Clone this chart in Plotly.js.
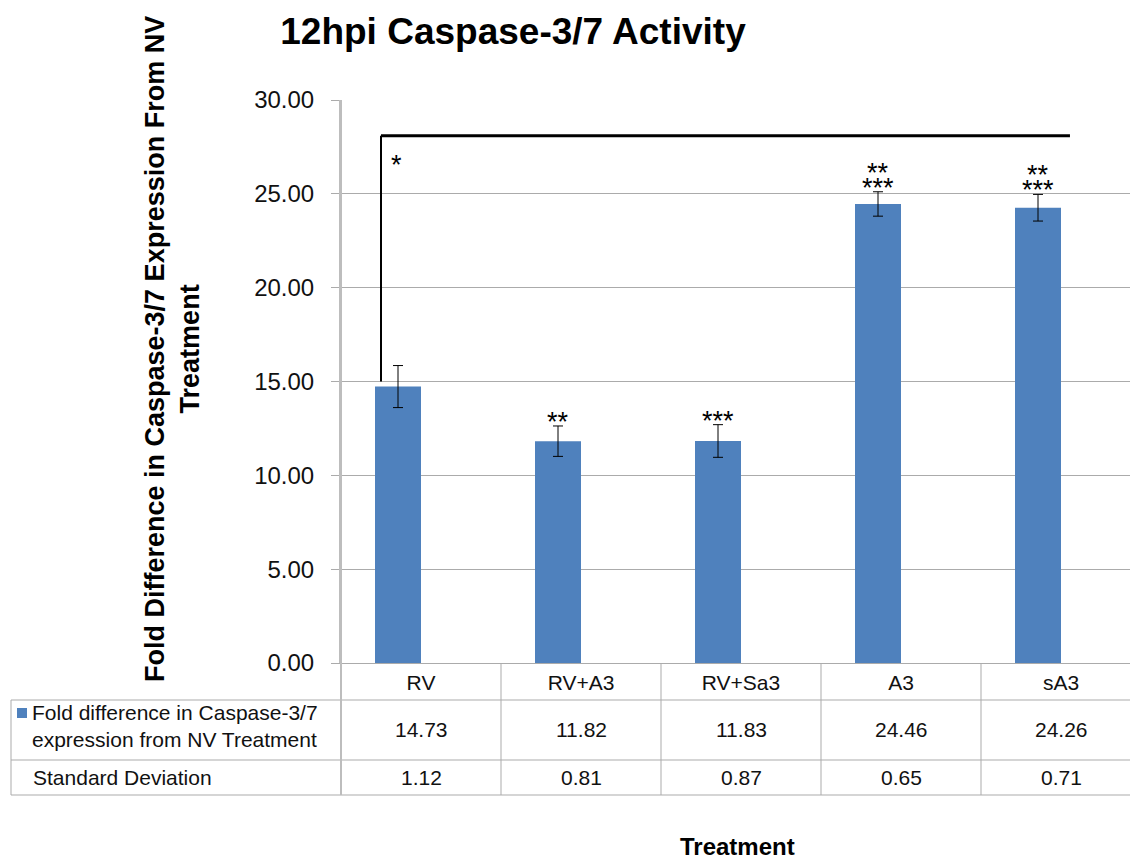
<!DOCTYPE html>
<html>
<head>
<meta charset="utf-8">
<script src="https://cdn.plot.ly/plotly-3.0.1.min.js"></script>
<style>html,body{margin:0;padding:0;background:#fff;}#chart{width:1130px;height:859px;}</style>
</head>
<body>
<div id="chart"></div>
<script>
// ---- data ----
var categories = ["RV", "RV+A3", "RV+Sa3", "A3", "sA3"];
var foldValues = [14.73, 11.82, 11.83, 24.46, 24.26];
var stdDev = [1.12, 0.81, 0.87, 0.65, 0.71];
var sigTop = ["", "", "", "**", "**"];
var sigBottom = ["", "**", "***", "***", "***"];
var seriesName = "Fold difference in Caspase-3/7<br>expression from NV Treatment";
var sdRowName = "Standard Deviation";
var yTicks = [0, 5, 10, 15, 20, 25, 30];
var bracketStartY = 15;
var bracketTopY = 28.1;
var bracketStar = "*";

var FONT = "Liberation Sans, Arial, sans-serif";
var BLUE = "#4F81BD";
var GRID = "#ababab";

var W = 1130, H = 859;
var L = 341, T = 100, B = H - 663;
var plotH = 663 - T;
var plotW = W - L;
var catPx = 160;
function py(p) { return (663 - p) / plotH; }       // pixel y -> paper y
function px(p) { return (p - L) / plotW; }         // pixel x -> paper x

var barW = 46 / catPx;
var xs = categories.map(function (c, i) { return i; });

var trace = {
  type: "bar",
  x: xs,
  y: foldValues,
  width: barW,
  offset: -barW,
  marker: { color: BLUE, line: { width: 0 } },
  error_y: { type: "data", array: stdDev, visible: true, color: "#000", thickness: 1, width: 5 },
  hoverinfo: "none"
};

var shapes = [];
var annotations = [];
var tableRows = [py(700), py(760), py(795)];
tableRows.forEach(function (yy) {
  shapes.push({ type: "line", xref: "paper", yref: "paper", x0: px(11), x1: 1, y0: yy, y1: yy, line: { color: GRID, width: 1 } });
});
shapes.push({ type: "line", xref: "paper", yref: "paper", x0: px(11), x1: px(11), y0: tableRows[0], y1: tableRows[2], line: { color: GRID, width: 1 } });
shapes.push({ type: "line", xref: "paper", yref: "paper", x0: 0, x1: 0, y0: 1, y1: tableRows[2], line: { color: "#bdbdbd", width: 2 } });
for (var i = 0; i < categories.length - 1; i++) {
  shapes.push({ type: "line", xref: "x", yref: "paper", x0: i + 0.5, x1: i + 0.5, y0: 0, y1: tableRows[2], line: { color: GRID, width: 1 } });
}
shapes.push({ type: "rect", xref: "paper", yref: "paper", x0: px(17), x1: px(27), y0: py(708), y1: py(718), fillcolor: BLUE, line: { width: 0 } });

// significance bracket
var brX0 = -0.25, brX1 = 4.056;
shapes.push({ type: "line", xref: "x", yref: "y", x0: brX0, x1: brX0, y0: bracketStartY, y1: bracketTopY, line: { color: "#000", width: 2 } });
shapes.push({ type: "line", xref: "x", yref: "y", x0: brX0, x1: brX1, y0: bracketTopY, y1: bracketTopY, line: { color: "#000", width: 3 } });

var STAR = 27;
var starFont = { family: FONT, size: STAR, color: "#000" };
annotations.push({ xref: "x", yref: "paper", x: -0.155, y: py(157 + 0.29 * STAR), xanchor: "center", yanchor: "middle", text: bracketStar, showarrow: false, font: starFont });

categories.forEach(function (c, i) {
  var top = foldValues[i] + stdDev[i];
  if (sigBottom[i]) {
    annotations.push({ xref: "x", yref: "y", x: i - barW / 2, y: top, xanchor: "center", yanchor: "bottom", yshift: 2, height: 15, valign: "top", text: sigBottom[i], showarrow: false, font: starFont });
  }
  if (sigTop[i]) {
    annotations.push({ xref: "x", yref: "y", x: i - barW / 2, y: top, xanchor: "center", yanchor: "bottom", yshift: 17, height: 15, valign: "top", text: sigTop[i], showarrow: false, font: starFont });
  }
  annotations.push({ xref: "x", yref: "paper", x: i, y: py(729), xanchor: "center", yanchor: "middle", text: foldValues[i].toFixed(2), showarrow: false, font: { family: FONT, size: 21, color: "#111" } });
  annotations.push({ xref: "x", yref: "paper", x: i, y: py(777), xanchor: "center", yanchor: "middle", text: stdDev[i].toFixed(2), showarrow: false, font: { family: FONT, size: 21, color: "#111" } });
});

annotations.push({ xref: "paper", yref: "paper", x: px(30), y: py(726), xanchor: "left", yanchor: "middle", align: "left", text: seriesName, showarrow: false, font: { family: FONT, size: 21, color: "#111" } });
annotations.push({ xref: "paper", yref: "paper", x: px(31), y: py(777), xanchor: "left", yanchor: "middle", text: sdRowName, showarrow: false, font: { family: FONT, size: 21, color: "#111" } });

annotations.push({ xref: "paper", yref: "paper", x: px(172), y: py(349), xanchor: "center", yanchor: "middle", textangle: -90, text: "<b>Fold Difference in Caspase-3/7 Expression From NV<br>Treatment</b>", showarrow: false, font: { family: FONT, size: 27, color: "#000" } });
annotations.push({ xref: "paper", yref: "paper", x: px(737), y: py(846), xanchor: "center", yanchor: "middle", text: "<b>Treatment</b>", showarrow: false, font: { family: FONT, size: 24, color: "#000" } });

var layout = {
  width: W, height: H,
  margin: { l: L, r: 0, t: T, b: B, pad: 0 },
  paper_bgcolor: "#fff", plot_bgcolor: "#fff",
  showlegend: false,
  title: { text: "<b>12hpi Caspase-3/7 Activity</b>", x: 513 / W, xanchor: "center", xref: "container", y: 1 - 31 / H, yanchor: "middle", font: { family: FONT, size: 37, color: "#000" } },
  xaxis: {
    type: "linear", range: [-0.5, -0.5 + plotW / catPx],
    tickmode: "array", tickvals: xs, ticktext: categories,
    ticks: "", showgrid: false, zeroline: false, showline: true, linecolor: GRID, linewidth: 1,
    tickfont: { family: FONT, size: 21, color: "#111" }, ticklabelstandoff: 1, fixedrange: true
  },
  yaxis: {
    range: [0, 30], tickmode: "array", tickvals: yTicks,
    ticktext: yTicks.map(function (v) { return v.toFixed(2); }),
    showgrid: true, gridcolor: GRID, gridwidth: 1, zeroline: false,
    showline: true, linecolor: "#bdbdbd", linewidth: 2,
    ticks: "outside", ticklen: 8, tickcolor: GRID, ticklabelstandoff: 12,
    tickfont: { family: FONT, size: 24, color: "#111" }, fixedrange: true
  },
  shapes: shapes,
  annotations: annotations
};

Plotly.newPlot("chart", [trace], layout, { displayModeBar: false, staticPlot: true });
</script>
</body>
</html>
